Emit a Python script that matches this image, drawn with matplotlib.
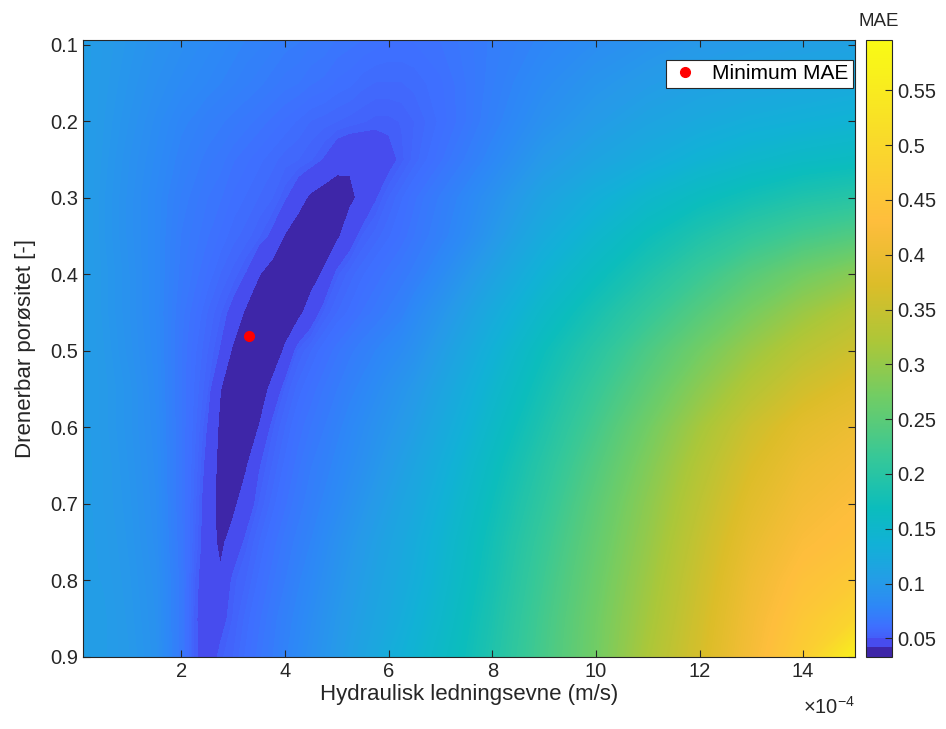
import numpy as np
import matplotlib
matplotlib.use('Agg')
import matplotlib.pyplot as plt
import matplotlib.colors as colors
from matplotlib.cm import ScalarMappable

plt.rcParams['font.family'] = ['Liberation Sans', 'DejaVu Sans']
plt.rcParams['mathtext.fontset'] = 'custom'
plt.rcParams['mathtext.rm'] = 'Liberation Sans'
plt.rcParams['mathtext.it'] = 'Liberation Sans:italic'

# --- Grid of the calibration scan ---
# hydraulic conductivity, in units of 1e-4 m/s
K_VALUES = [0.1, 0.5, 1.0, 1.5, 2.0, 2.25, 2.5, 2.75, 3.0, 3.25, 3.5, 3.75,
            4.0, 4.25, 4.5, 4.75, 5.0, 5.25, 5.5, 5.75, 6.0, 6.25, 6.5,
            7.0, 7.5, 8.0, 9.0, 10.0, 11.0, 12.0, 13.0, 14.0, 15.0]
# drainable porosity [-]
S_VALUES = [0.09, 0.15, 0.2, 0.25, 0.3, 0.35, 0.4, 0.45, 0.5, 0.55,
            0.6, 0.65, 0.7, 0.75, 0.8, 0.85, 0.9]

# MAE per porosity row (one entry per K value)
MAE_S009 = [0.105, 0.101, 0.096, 0.091, 0.087, 0.085, 0.083, 0.081, 0.079, 0.077, 0.076, 0.074, 0.072, 0.071, 0.069, 0.068, 0.066, 0.065, 0.064, 0.063, 0.062, 0.062, 0.062, 0.064, 0.067, 0.071, 0.078, 0.085, 0.091, 0.097, 0.101, 0.105, 0.108]
MAE_S015 = [0.105, 0.100, 0.094, 0.088, 0.083, 0.081, 0.079, 0.077, 0.075, 0.073, 0.071, 0.069, 0.067, 0.066, 0.064, 0.063, 0.061, 0.060, 0.058, 0.057, 0.057, 0.057, 0.058, 0.061, 0.066, 0.072, 0.084, 0.094, 0.102, 0.109, 0.114, 0.118, 0.122]
MAE_S020 = [0.105, 0.099, 0.092, 0.085, 0.078, 0.076, 0.073, 0.071, 0.069, 0.067, 0.065, 0.063, 0.061, 0.059, 0.057, 0.056, 0.055, 0.054, 0.053, 0.052, 0.052, 0.053, 0.055, 0.060, 0.066, 0.074, 0.090, 0.102, 0.113, 0.122, 0.130, 0.135, 0.140]
MAE_S025 = [0.105, 0.098, 0.090, 0.083, 0.075, 0.072, 0.069, 0.067, 0.064, 0.062, 0.060, 0.058, 0.056, 0.055, 0.053, 0.050, 0.045, 0.043, 0.0435, 0.045, 0.048, 0.052, 0.056, 0.063, 0.071, 0.080, 0.100, 0.114, 0.127, 0.140, 0.150, 0.158, 0.163]
MAE_S030 = [0.105, 0.097, 0.089, 0.081, 0.072, 0.069, 0.066, 0.064, 0.061, 0.059, 0.057, 0.055, 0.051, 0.045, 0.040, 0.037, 0.037, 0.040, 0.044, 0.050, 0.055, 0.059, 0.063, 0.071, 0.080, 0.090, 0.113, 0.132, 0.150, 0.165, 0.178, 0.190, 0.198]
MAE_S035 = [0.105, 0.097, 0.089, 0.081, 0.070, 0.067, 0.064, 0.061, 0.058, 0.056, 0.053, 0.049, 0.041, 0.037, 0.035, 0.036, 0.040, 0.047, 0.053, 0.056, 0.059, 0.062, 0.066, 0.074, 0.084, 0.097, 0.125, 0.148, 0.170, 0.190, 0.210, 0.227, 0.240]
MAE_S040 = [0.105, 0.098, 0.090, 0.081, 0.069, 0.065, 0.061, 0.057, 0.054, 0.050, 0.042, 0.037, 0.035, 0.035, 0.038, 0.043, 0.052, 0.056, 0.059, 0.062, 0.065, 0.068, 0.072, 0.083, 0.096, 0.110, 0.140, 0.165, 0.190, 0.217, 0.245, 0.270, 0.290]
MAE_S045 = [0.105, 0.098, 0.090, 0.081, 0.067, 0.062, 0.057, 0.053, 0.048, 0.040, 0.036, 0.035, 0.036, 0.039, 0.046, 0.053, 0.057, 0.060, 0.064, 0.067, 0.071, 0.075, 0.082, 0.094, 0.108, 0.124, 0.155, 0.183, 0.212, 0.243, 0.275, 0.305, 0.330]
MAE_S050 = [0.105, 0.099, 0.091, 0.082, 0.066, 0.060, 0.055, 0.050, 0.040, 0.0335, 0.034, 0.036, 0.043, 0.053, 0.057, 0.061, 0.065, 0.069, 0.073, 0.077, 0.081, 0.085, 0.090, 0.104, 0.119, 0.136, 0.170, 0.200, 0.235, 0.270, 0.305, 0.335, 0.355]
MAE_S055 = [0.105, 0.100, 0.093, 0.083, 0.066, 0.059, 0.053, 0.042, 0.036, 0.035, 0.037, 0.044, 0.053, 0.058, 0.062, 0.066, 0.070, 0.075, 0.079, 0.084, 0.089, 0.094, 0.099, 0.113, 0.129, 0.146, 0.180, 0.215, 0.252, 0.292, 0.330, 0.360, 0.380]
MAE_S060 = [0.105, 0.100, 0.093, 0.084, 0.066, 0.058, 0.050, 0.040, 0.036, 0.037, 0.042, 0.052, 0.057, 0.062, 0.066, 0.070, 0.075, 0.080, 0.085, 0.090, 0.095, 0.100, 0.106, 0.121, 0.137, 0.155, 0.190, 0.228, 0.270, 0.314, 0.355, 0.385, 0.400]
MAE_S065 = [0.105, 0.101, 0.094, 0.085, 0.066, 0.057, 0.048, 0.039, 0.037, 0.041, 0.050, 0.055, 0.060, 0.065, 0.070, 0.074, 0.079, 0.084, 0.089, 0.095, 0.101, 0.107, 0.114, 0.129, 0.146, 0.164, 0.200, 0.240, 0.283, 0.328, 0.370, 0.400, 0.415]
MAE_S070 = [0.105, 0.101, 0.095, 0.086, 0.066, 0.056, 0.046, 0.039, 0.040, 0.046, 0.053, 0.058, 0.063, 0.068, 0.073, 0.078, 0.083, 0.089, 0.095, 0.101, 0.107, 0.114, 0.120, 0.136, 0.153, 0.171, 0.208, 0.250, 0.293, 0.338, 0.382, 0.412, 0.428]
MAE_S075 = [0.105, 0.102, 0.096, 0.087, 0.067, 0.055, 0.046, 0.040, 0.045, 0.052, 0.057, 0.062, 0.067, 0.072, 0.077, 0.083, 0.089, 0.095, 0.101, 0.107, 0.113, 0.119, 0.126, 0.142, 0.159, 0.177, 0.216, 0.257, 0.300, 0.347, 0.393, 0.425, 0.440]
MAE_S080 = [0.105, 0.103, 0.097, 0.089, 0.068, 0.053, 0.045, 0.043, 0.052, 0.055, 0.060, 0.065, 0.070, 0.076, 0.081, 0.087, 0.093, 0.099, 0.105, 0.111, 0.117, 0.123, 0.130, 0.146, 0.163, 0.181, 0.222, 0.263, 0.307, 0.354, 0.403, 0.440, 0.460]
MAE_S085 = [0.106, 0.104, 0.098, 0.090, 0.068, 0.052, 0.045, 0.048, 0.053, 0.058, 0.063, 0.068, 0.074, 0.079, 0.085, 0.091, 0.097, 0.103, 0.109, 0.115, 0.121, 0.128, 0.136, 0.151, 0.168, 0.186, 0.227, 0.268, 0.313, 0.360, 0.410, 0.455, 0.490]
MAE_S090 = [0.106, 0.104, 0.099, 0.091, 0.068, 0.052, 0.046, 0.052, 0.055, 0.060, 0.065, 0.070, 0.076, 0.082, 0.088, 0.094, 0.100, 0.107, 0.113, 0.120, 0.128, 0.135, 0.142, 0.157, 0.172, 0.190, 0.230, 0.270, 0.320, 0.365, 0.415, 0.470, 0.560]

# best parameter pair
MIN_K = 3.3
MIN_S = 0.48

MAE_LIMITS = (0.033, 0.596)
CBAR_TICKS = [0.05, 0.1, 0.15, 0.2, 0.25, 0.3, 0.35, 0.4, 0.45, 0.5, 0.55]
CBAR_LABELS = ['0.05', '0.1', '0.15', '0.2', '0.25', '0.3', '0.35', '0.4', '0.45', '0.5', '0.55']
X_TICKS = [2, 4, 6, 8, 10, 12, 14]
Y_TICKS = [0.1, 0.2, 0.3, 0.4, 0.5, 0.6, 0.7, 0.8, 0.9]

mae = np.array([MAE_S009, MAE_S015, MAE_S020, MAE_S025, MAE_S030, MAE_S035,
                MAE_S040, MAE_S045, MAE_S050, MAE_S055, MAE_S060, MAE_S065,
                MAE_S070, MAE_S075, MAE_S080, MAE_S085, MAE_S090])

# --- Parula-like colour map, stretched towards low values ---
parula_anchors = [
    (0.000, (0.2422, 0.1504, 0.6603)),
    (0.0635, (0.2706, 0.2147, 0.8364)),
    (0.143, (0.2810, 0.3228, 0.9579)),
    (0.222, (0.2440, 0.4358, 0.9988)),
    (0.286, (0.1786, 0.5289, 0.9682)),
    (0.349, (0.1460, 0.6091, 0.9079)),
    (0.429, (0.0689, 0.6948, 0.8394)),
    (0.492, (0.0433, 0.7411, 0.7394)),
    (0.571, (0.2161, 0.7843, 0.5923)),
    (0.651, (0.4456, 0.8024, 0.3909)),
    (0.714, (0.6720, 0.7793, 0.2227)),
    (0.778, (0.8634, 0.7406, 0.1596)),
    (0.841, (0.9956, 0.7434, 0.2371)),
    (0.905, (0.9786, 0.8386, 0.1766)),
    (1.000, (0.9769, 0.9839, 0.0805)),
]
parula = colors.LinearSegmentedColormap.from_list('parula', parula_anchors, N=1024)

# the two lowest of 64 steps stay flat (min region + rim), rest is smooth
n_fine = 1024
pos = np.linspace(0, 1, n_fine)
step = 1.0 / 64
pos_c = np.where(pos < step, 0.0,
                 np.where(pos < 2 * step, np.sqrt(1 / 63), np.sqrt(pos)))
cmap = colors.ListedColormap(parula(pos_c), name='mae')
norm = colors.Normalize(vmin=MAE_LIMITS[0], vmax=MAE_LIMITS[1])
levels = np.linspace(MAE_LIMITS[0], MAE_LIMITS[1], 257)

dark = (0.15, 0.15, 0.15)

fig = plt.figure(figsize=(9.46, 7.29), dpi=100)
ax = fig.add_axes([0.0877, 0.0988, 0.8161, 0.8464])

ax.contourf(K_VALUES, S_VALUES, mae, levels=levels, cmap=cmap, norm=norm,
            extend='both', antialiased=False)
ax.plot(MIN_K, MIN_S, 'o', color='red', markersize=7, label='Minimum MAE')

ax.set_xlim(0.1, 15)
ax.set_ylim(0.9, 0.0935)
ax.set_xticks(X_TICKS)
ax.set_yticks(Y_TICKS)
ax.set_yticklabels([f'{v:g}' for v in Y_TICKS])
ax.tick_params(direction='in', top=True, right=True, length=5, width=0.8,
               labelsize=14.5, colors=dark, labelcolor=dark)
for sp in ax.spines.values():
    sp.set_color(dark)
    sp.set_linewidth(0.8)

ax.set_xlabel('Hydraulisk ledningsevne (m/s)', fontsize=16, color=dark, labelpad=2)
ax.set_ylabel('Drenerbar porøsitet [-]', fontsize=16, color=dark, labelpad=10)
ax.text(1.0, -0.063, r'$\times10^{-4}$', transform=ax.transAxes, ha='right',
        va='top', fontsize=14.5, color=dark)

leg = ax.legend(loc='upper right', bbox_to_anchor=(0.997, 0.967), fontsize=15,
                fancybox=False, framealpha=1, edgecolor=dark, borderpad=0.2,
                handletextpad=0.6, handlelength=1.4, borderaxespad=0)
leg.get_frame().set_linewidth(0.8)

# --- Colour bar ---
cax = fig.add_axes([0.9154, 0.0988, 0.0275, 0.8464])
sm = ScalarMappable(norm=norm, cmap=cmap)
cb = fig.colorbar(sm, cax=cax, ticks=CBAR_TICKS)
cb.set_ticklabels(CBAR_LABELS)
cb.outline.set_edgecolor(dark)
cb.outline.set_linewidth(0.8)
cax.tick_params(direction='in', length=5, width=0.8, labelsize=14.5,
                colors=dark, labelcolor=dark)
cax.set_title('MAE', fontsize=13.5, color=dark, pad=10)

fig.savefig('out.png', dpi=100)
